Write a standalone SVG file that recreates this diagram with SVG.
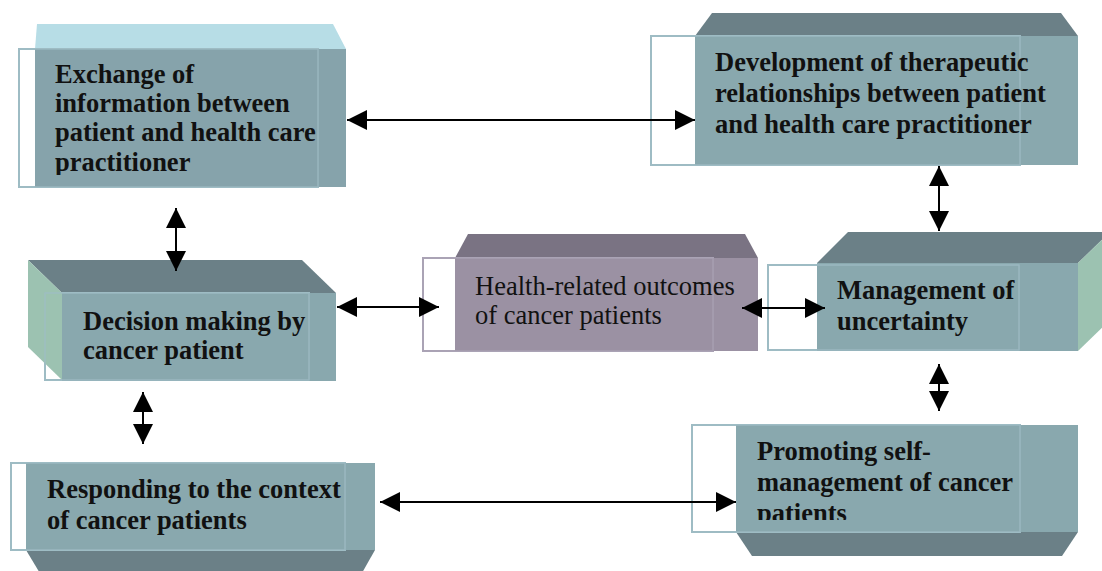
<svg xmlns="http://www.w3.org/2000/svg" width="1102" height="571" viewBox="0 0 1102 571">
<style>
.front{fill:#89a8ae}
.top{fill:#6b8087}
.side{fill:#9cc2b1}
.frame{fill:#ffffff;stroke:#9fbcc4;stroke-width:2}
.frameline{fill:none;stroke:#9fbcc4;stroke-width:1.5;opacity:0.8}
.lbl{font-family:"Liberation Serif","Times New Roman",serif;font-size:26.5px;font-weight:bold;fill:#111}
.lbln{font-family:"Liberation Serif","Times New Roman",serif;font-size:26.5px;fill:#111}
.conn{stroke:#000;stroke-width:2;fill:none;marker-start:url(#ah);marker-end:url(#ah)}
</style>
<defs>
<marker id="ah" markerUnits="userSpaceOnUse" markerWidth="20" markerHeight="20" viewBox="0 0 20 20" refX="20" refY="10" orient="auto-start-reverse">
<path d="M0,0 L20,10 L0,20 Z" fill="#000"/>
</marker>
<clipPath id="c1"><rect x="35" y="49" width="311" height="126"/></clipPath>
<clipPath id="c7"><rect x="736" y="425" width="342" height="95"/></clipPath>
</defs>
<rect width="1102" height="571" fill="#fff"/>

<g id="node-exchange">
<polygon points="37,24 333,24 346,49 35,49" fill="#b7dde6"/>
<rect class="frame" x="19" y="49" width="299" height="138"/>
<rect x="35" y="49" width="311" height="138" fill="#86a3ab"/>
<rect class="frameline" x="19" y="49" width="299" height="138"/>
<g clip-path="url(#c1)">
<text class="lbl" x="55" y="83">Exchange of</text>
<text class="lbl" x="55" y="112">information between</text>
<text class="lbl" x="55" y="141">patient and health care</text>
<text class="lbl" x="55" y="171">practitioner</text>
</g>
</g>

<g id="node-development">
<polygon points="712,13 1061,13 1078,36 695,36" class="top"/>
<rect class="frame" x="651" y="36" width="369" height="129"/>
<rect class="front" x="695" y="36" width="383" height="129"/>
<rect class="frameline" x="651" y="36" width="369" height="129"/>
<text class="lbl" x="715" y="71">Development of therapeutic</text>
<text class="lbl" x="715" y="102">relationships between patient</text>
<text class="lbl" x="715" y="133">and health care practitioner</text>
</g>

<g id="node-decision">
<polygon points="28,260 302,260 336,293 62,293" class="top"/>
<rect class="frame" x="45" y="293" width="264" height="87"/>
<polygon points="28,260 62,293 62,380 28,347" class="side"/>
<rect class="front" x="62" y="293" width="274" height="88"/>
<rect class="frameline" x="45" y="293" width="264" height="87"/>
<text class="lbl" x="83" y="330">Decision making by</text>
<text class="lbl" x="83" y="359">cancer patient</text>
</g>

<g id="node-outcomes">
<polygon points="468,234 745,234 758,258 455,258" fill="#7a7383"/>
<rect x="423" y="258" width="290" height="93" fill="#fff" stroke="#aaa3b5" stroke-width="2"/>
<rect x="455" y="258" width="303" height="93" fill="#9b91a3"/>
<rect x="423" y="258" width="290" height="93" fill="none" stroke="#aaa3b5" stroke-width="1.5" opacity="0.8"/>
<text class="lbln" x="475" y="295">Health-related outcomes</text>
<text class="lbln" x="475" y="324">of cancer patients</text>
</g>

<g id="node-uncertainty">
<polygon points="848,232 1110,232 1078,263 817,263" class="top"/>
<polygon points="1078,263 1110,232 1110,320 1078,351" class="side"/>
<rect class="frame" x="768" y="265" width="251" height="85"/>
<rect class="front" x="817" y="263" width="261" height="88"/>
<rect class="frameline" x="768" y="265" width="251" height="85"/>
<text class="lbl" x="837" y="299">Management of</text>
<text class="lbl" x="837" y="330">uncertainty</text>
</g>

<g id="node-context">
<polygon points="26,550 375,550 358,580 44,580" class="top"/>
<rect class="frame" x="11" y="463" width="334" height="87"/>
<rect class="front" x="26" y="463" width="349" height="87"/>
<rect class="frameline" x="11" y="463" width="334" height="87"/>
<text class="lbl" x="47" y="498">Responding to the context</text>
<text class="lbl" x="47" y="529">of cancer patients</text>
</g>

<g id="node-selfmanagement">
<polygon points="736,532 1078,532 1062,556 752,556" class="top"/>
<rect class="frame" x="692" y="425" width="328" height="107"/>
<rect class="front" x="736" y="425" width="342" height="107"/>
<rect class="frameline" x="692" y="425" width="328" height="107"/>
<g clip-path="url(#c7)">
<text class="lbl" x="757" y="460">Promoting self-</text>
<text class="lbl" x="757" y="491">management of cancer</text>
<text class="lbl" x="757" y="522">patients</text>
</g>
</g>

<g id="connectors">
<line class="conn" x1="347" y1="120" x2="695" y2="120"/>
<line class="conn" x1="939" y1="166" x2="939" y2="231"/>
<line class="conn" x1="176" y1="208" x2="176" y2="271"/>
<line class="conn" x1="337" y1="307" x2="439" y2="307"/>
<line class="conn" x1="742" y1="308" x2="825" y2="308"/>
<line class="conn" x1="939" y1="364" x2="939" y2="411"/>
<line class="conn" x1="143" y1="392" x2="143" y2="444"/>
<line class="conn" x1="380" y1="502" x2="736" y2="502"/>
</g>
</svg>
